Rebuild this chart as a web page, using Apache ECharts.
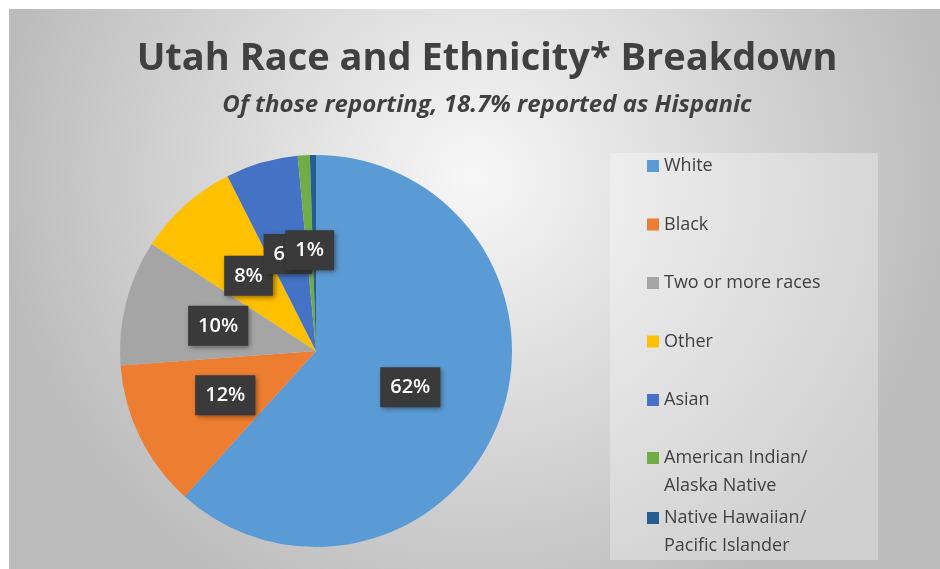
<!DOCTYPE html>
<html>
<head>
<meta charset="utf-8">
<title>Utah Race and Ethnicity Breakdown</title>
<script src="https://cdn.jsdelivr.net/npm/echarts@6/dist/echarts.min.js"></script>
<style>
  html, body { margin: 0; padding: 0; background: #fff; }
  #chart { width: 940px; height: 569px; }
</style>
</head>
<body>
<div id="chart"></div>
<script>
// categories and shares
const categories = [
  "White",
  "Black",
  "Two or more races",
  "Other",
  "Asian",
  "American Indian/\nAlaska Native",
  "Native Hawaiian/\nPacific Islander"
];
const shares = [62.0, 12.2, 10.4, 8.4, 6.0, 1.0, 0.5];
const colors = ["#5B9BD5", "#ED7D31", "#A5A5A5", "#FFC000", "#4472C4", "#70AD47", "#255E91"];

const chart = echarts.init(document.getElementById("chart"));

const pieData = categories.map((name, i) => ({
  name: name,
  value: shares[i],
  itemStyle: { color: colors[i] },
  // smallest slice has no label in the original
  label: i === 6 ? { show: false } : undefined
}));

const legendText = {
  fontFamily: "Open Sans",
  fontSize: 18,
  color: "#404040",
  lineHeight: 28
};

const option = {
  backgroundColor: "#ffffff",
  graphic: [
    {
      type: "rect",
      z: -10,
      shape: { x: 9, y: 9, width: 931, height: 560 },
      style: {
        fill: {
          type: "radial",
          x: 0.5, y: 0.3, r: 0.85,
          colorStops: [
            { offset: 0, color: "#f7f7f7" },
            { offset: 1, color: "#bcbcbc" }
          ]
        }
      }
    },
    {
      // legend panel
      type: "rect",
      z: -9,
      shape: { x: 610, y: 153, width: 268, height: 407 },
      style: { fill: "rgba(255,255,255,0.3)" }
    }
  ],
  title: [
    {
      text: "Utah Race and Ethnicity* Breakdown",
      left: 482,
      textAlign: "center",
      top: 35,
      textStyle: {
        fontFamily: "Open Sans",
        fontWeight: "bold",
        fontSize: 38,
        color: "#404040"
      }
    },
    {
      text: "Of those reporting, 18.7% reported as Hispanic",
      left: 482,
      textAlign: "center",
      top: 88,
      textStyle: {
        fontFamily: "Open Sans",
        fontWeight: "bold",
        fontStyle: "italic",
        fontSize: 24,
        color: "#404040"
      }
    }
  ],
  legend: [
    {
      orient: "vertical",
      left: 647,
      top: 152,
      padding: 0,
      itemWidth: 12,
      itemHeight: 12,
      itemGap: 30.5,
      icon: "rect",
      data: categories.slice(0, 5),
      textStyle: legendText,
      selectedMode: false
    },
    {
      orient: "vertical",
      left: 647,
      top: 444,
      padding: 0,
      itemWidth: 12,
      itemHeight: 40,
      itemGap: 4,
      // square sits at the top so it lines up with the first text line
      icon: "path://M0,0L12,0L12,12L0,12Z M0,40L12,40",
      data: categories.slice(5),
      textStyle: legendText,
      selectedMode: false
    }
  ],
  series: [
    {
      type: "pie",
      center: [316, 351],
      radius: 196,
      startAngle: 90,
      clockwise: true,
      animation: false,
      avoidLabelOverlap: false,
      labelLayout: { hideOverlap: false },
      label: {
        show: true,
        position: "inside",
        formatter: p => Math.round(p.percent) + "%",
        fontFamily: "Open Sans",
        fontSize: 20,
        fontWeight: 600,
        color: "#ffffff",
        backgroundColor: "#3a3a3a",
        padding: [11, 10, 9, 10],
        shadowColor: "rgba(0,0,0,0.45)",
        shadowBlur: 5,
        shadowOffsetX: 2,
        shadowOffsetY: 2
      },
      labelLine: { show: false },
      emphasis: { disabled: true },
      data: pieData
    }
  ]
};

chart.setOption(option);
</script>
</body>
</html>
